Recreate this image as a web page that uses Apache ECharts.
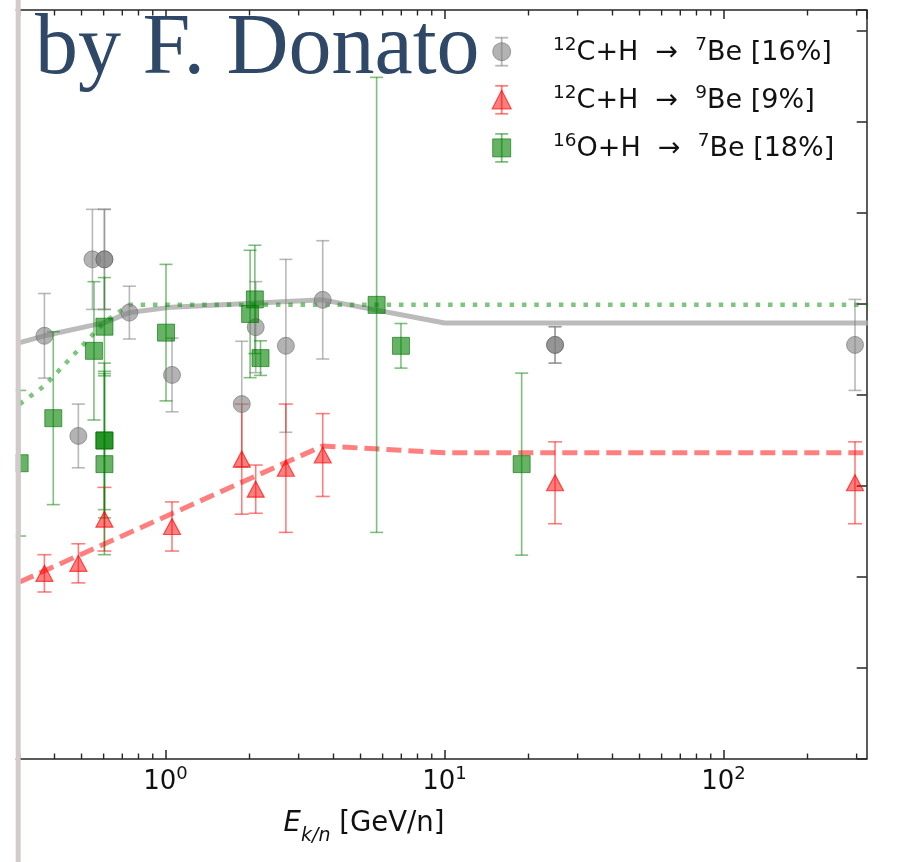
<!DOCTYPE html>
<html>
<head>
<meta charset="utf-8">
<script src="https://cdn.jsdelivr.net/npm/echarts@6/dist/echarts.min.js"></script>
<style>
  html, body { margin: 0; padding: 0; background: #ffffff; }
  #chart { width: 900px; height: 862px; }
</style>
</head>
<body>
<div id="chart"></div>
<script>
// Axis ranges: kinetic energy per nucleon (log) and cross section (mb)
const X_MIN = 0.2551;
const X_MAX = 326;
const Y_MIN = 0;
const Y_MAX = 16.46;
const Y_STEP = 2;
const xMinorTicks = [0.3, 0.4, 0.5, 0.6, 0.7, 0.8, 0.9,
                     2, 3, 4, 5, 6, 7, 8, 9,
                     20, 30, 40, 50, 60, 70, 80, 90,
                     200, 300];

// 12C+H -> 7Be measurements
const c7Energy = [0.368, 0.547, 0.604, 0.604, 0.487, 0.742, 1.055, 1.876, 2.105, 2.70, 3.66, 24.9, 24.9, 296];
const c7Value  = [9.30, 10.98, 10.98, 10.98, 7.10, 9.81, 8.44, 7.80, 9.49, 9.08, 10.09, 9.10, 9.10, 9.10];
const c7Error  = [0.93, 1.10, 1.10, 1.10, 0.70, 0.58, 0.81, 1.38, 1.00, 1.90, 1.30, 0.40, 0.40, 1.00];

// 12C+H -> 9Be measurements
const c9Energy = [0.368, 0.487, 0.604, 1.055, 1.876, 2.105, 2.70, 3.66, 24.9, 296];
const c9Value  = [4.08, 4.30, 5.27, 5.11, 6.59, 5.93, 6.39, 6.68, 6.07, 6.07];
const c9Error  = [0.41, 0.43, 0.70, 0.54, 1.21, 0.53, 1.41, 0.91, 0.90, 0.90];

// 16O+H -> 7Be measurements
const o7Energy = [0.300, 0.396, 0.554, 0.604, 0.604, 0.604, 0.604, 1.004, 2.01, 2.09, 2.19, 5.71, 6.98, 18.9];
const o7Value  = [6.50, 7.49, 8.97, 9.50, 7.00, 7.00, 6.48, 9.37, 9.78, 10.10, 8.81, 9.98, 9.08, 6.48];
const o7Error  = [1.60, 1.90, 1.52, 1.08, 1.52, 1.70, 1.99, 1.50, 1.40, 1.19, 0.38, 5.00, 0.49, 2.00];

// Parametrisations
const c7ModelEnergy = [0.30, 0.368, 0.604, 0.742, 1.055, 3.66, 10, 330];
const c7ModelValue  = [9.15, 9.30, 9.59, 9.81, 9.93, 10.09, 9.58, 9.58];
const c9ModelEnergy = [0.30, 3.66, 10, 330];
const c9ModelValue  = [3.89, 6.88, 6.73, 6.73];
const o7ModelEnergy = [0.30, 0.368, 0.487, 0.604, 0.742, 330];
const o7ModelValue  = [7.80, 8.20, 8.99, 9.60, 9.98, 9.98];

// Legend entries
const legendLabels = [
  '{s|12}C+H  →  {s|7}Be [16%]',
  '{s|12}C+H  →  {s|9}Be [9%]',
  '{s|16}O+H  →  {s|7}Be [18%]'
];

const SANS = 'DejaVu Sans';
const SPINE = '#262626';

const GRAY_FILL = 'rgba(128,128,128,0.6)';
const GRAY_EDGE = 'rgba(100,100,100,0.55)';
const GRAY_BAR = 'rgba(128,128,128,0.55)';
const RED_FILL = 'rgba(255,0,0,0.5)';
const RED_EDGE = 'rgba(255,0,0,0.65)';
const RED_BAR = 'rgba(255,0,0,0.5)';
const GREEN_FILL = 'rgba(0,128,0,0.6)';
const GREEN_EDGE = 'rgba(0,110,0,0.6)';
const GREEN_BAR = 'rgba(0,128,0,0.5)';

const zip3 = (a, b, c) => a.map((v, i) => [v, b[i], c[i]]);
const zip2 = (a, b) => a.map((v, i) => [v, b[i]]);

function errorBars(color, capHalf) {
  return function (params, api) {
    const x = api.value(0), v = api.value(1), e = api.value(2);
    const top = api.coord([x, v + e]);
    const bot = api.coord([x, v - e]);
    const style = { stroke: color, lineWidth: 1.6, fill: null };
    return {
      type: 'group',
      children: [
        { type: 'line', shape: { x1: top[0], y1: top[1], x2: bot[0], y2: bot[1] }, style: style },
        { type: 'line', shape: { x1: top[0] - capHalf, y1: top[1], x2: top[0] + capHalf, y2: top[1] }, style: style },
        { type: 'line', shape: { x1: bot[0] - capHalf, y1: bot[1], x2: bot[0] + capHalf, y2: bot[1] }, style: style }
      ]
    };
  };
}

const labelRich = {
  b: { fontFamily: SANS, fontSize: 26, color: '#111', lineHeight: 30, verticalAlign: 'bottom' },
  s: { fontFamily: SANS, fontSize: 18, color: '#111', lineHeight: 30, verticalAlign: 'top' }
};

function logAxis(position, showLabels) {
  return {
    type: 'log',
    logBase: 10,
    min: X_MIN,
    max: X_MAX,
    position: position,
    splitLine: { show: false },
    axisLine: { show: true, lineStyle: { color: SPINE, width: 1.5 } },
    axisTick: { show: true, inside: true, length: 9, lineStyle: { color: SPINE, width: 1.5 } },
    axisLabel: showLabels ? {
      show: true,
      margin: 6,
      showMinLabel: false,
      showMaxLabel: false,
      formatter: function (v) {
        const n = Math.round(Math.log10(v));
        return '{b|10}{s|' + n + '}';
      },
      rich: labelRich
    } : { show: false }
  };
}

// Legend block (markers with error bars and labels)
const legendX = 501.7;
const legendRows = [51.7, 99.8, 147.9];
const legendGraphics = [];
const legendBars = [GRAY_BAR, RED_BAR, GREEN_BAR];
legendRows.forEach((cy, i) => {
  const bar = legendBars[i];
  legendGraphics.push(
    { type: 'line', shape: { x1: legendX, y1: cy - 14, x2: legendX, y2: cy + 14 }, style: { stroke: bar, lineWidth: 1.8 } },
    { type: 'line', shape: { x1: legendX - 6.5, y1: cy - 14, x2: legendX + 6.5, y2: cy - 14 }, style: { stroke: bar, lineWidth: 1.8 } },
    { type: 'line', shape: { x1: legendX - 6.5, y1: cy + 14, x2: legendX + 6.5, y2: cy + 14 }, style: { stroke: bar, lineWidth: 1.8 } }
  );
  if (i === 0) {
    legendGraphics.push({ type: 'circle', shape: { cx: legendX, cy: cy, r: 9 }, style: { fill: GRAY_FILL, stroke: GRAY_EDGE, lineWidth: 1 } });
  } else if (i === 1) {
    legendGraphics.push({ type: 'polygon', shape: { points: [[legendX, cy - 9.5], [legendX - 9.5, cy + 9], [legendX + 9.5, cy + 9]] }, style: { fill: RED_FILL, stroke: RED_EDGE, lineWidth: 1.2 } });
  } else {
    legendGraphics.push({ type: 'rect', shape: { x: legendX - 9, y: cy - 9, width: 18, height: 18 }, style: { fill: GREEN_FILL, stroke: GREEN_EDGE, lineWidth: 1 } });
  }
  legendGraphics.push({
    type: 'text',
    style: {
      x: 553, y: cy + 1, text: legendLabels[i],
      align: 'left', verticalAlign: 'middle', textAlign: 'left', textVerticalAlign: 'middle',
      rich: {
        s: { fontFamily: SANS, fontSize: 18.5, fill: '#111', lineHeight: 34, verticalAlign: 'top' }
      },
      fontFamily: SANS, fontSize: 27, fill: '#111', lineHeight: 34
    }
  });
});

const chart = echarts.init(document.getElementById('chart'), null, { renderer: 'canvas' });

const staticGraphics = [
  // page margin and frame strip on the left
  { type: 'rect', z: 200, shape: { x: 0, y: 0, width: 15.7, height: 862 }, style: { fill: '#ffffff' } },
  { type: 'rect', z: 201, shape: { x: 15.7, y: 0, width: 5, height: 862 }, style: { fill: '#d3cbcb' } },
  {
    type: 'text', z: 202,
    style: {
      x: 35, y: 50, text: 'by F. Donato',
      fontFamily: 'Liberation Serif', fontSize: 86, fill: '#2f4867',
      align: 'left', verticalAlign: 'middle', textAlign: 'left', textVerticalAlign: 'middle'
    }
  },
  {
    type: 'text', z: 202,
    style: {
      x: 364, y: 828, text: '{i|E}{sub|k/n}{n| [GeV/n]}',
      align: 'center', verticalAlign: 'middle', textAlign: 'center', textVerticalAlign: 'middle',
      rich: {
        i: { fontFamily: SANS, fontStyle: 'italic', fontSize: 27.5, fill: '#111', lineHeight: 36, verticalAlign: 'top' },
        sub: { fontFamily: SANS, fontStyle: 'italic', fontSize: 19, fill: '#111', lineHeight: 36, verticalAlign: 'bottom' },
        n: { fontFamily: SANS, fontSize: 27.5, fill: '#111', lineHeight: 36, verticalAlign: 'top' }
      }
    }
  },
  { type: 'group', z: 150, children: legendGraphics }
];

chart.setOption({
  animation: false,
  backgroundColor: '#ffffff',
  grid: { left: 0, right: 33.3, top: 10, bottom: 103, containLabel: false, outerBoundsMode: 'none' },
  xAxis: [logAxis('bottom', true), logAxis('top', false)],
  yAxis: [{
    type: 'value',
    position: 'right',
    min: Y_MIN,
    max: Y_MAX,
    interval: Y_STEP,
    splitLine: { show: false },
    axisLabel: { show: false },
    axisLine: { show: true, lineStyle: { color: SPINE, width: 1.5 } },
    axisTick: { show: true, inside: true, length: 10, lineStyle: { color: SPINE, width: 1.5 } }
  }],
  series: [
    {
      type: 'line', name: 'c7model', data: zip2(c7ModelEnergy, c7ModelValue),
      showSymbol: false, lineStyle: { color: 'rgba(170,170,170,0.8)', width: 5 }, z: 2
    },
    {
      type: 'line', name: 'c9model', data: zip2(c9ModelEnergy, c9ModelValue),
      showSymbol: false, lineStyle: { color: 'rgba(255,0,0,0.5)', width: 5, type: [15, 7] }, z: 2
    },
    {
      type: 'line', name: 'o7model', data: zip2(o7ModelEnergy, o7ModelValue),
      showSymbol: false, lineStyle: { color: 'rgba(0,140,0,0.5)', width: 4.5, type: [4.5, 7.8] }, z: 2
    },
    {
      type: 'custom', name: 'c7err', renderItem: errorBars(GRAY_BAR, 6.5),
      data: zip3(c7Energy, c7Value, c7Error), encode: { x: 0, y: 1 }, z: 3
    },
    {
      type: 'scatter', name: '12C+H → 7Be', data: zip2(c7Energy, c7Value),
      symbol: 'circle', symbolSize: 17,
      itemStyle: { color: GRAY_FILL, borderColor: GRAY_EDGE, borderWidth: 1, opacity: 1 }, z: 4
    },
    {
      type: 'custom', name: 'c9err', renderItem: errorBars(RED_BAR, 7),
      data: zip3(c9Energy, c9Value, c9Error), encode: { x: 0, y: 1 }, z: 3
    },
    {
      type: 'scatter', name: '12C+H → 9Be', data: zip2(c9Energy, c9Value),
      symbol: 'triangle', symbolSize: [17, 16],
      itemStyle: { color: RED_FILL, borderColor: RED_EDGE, borderWidth: 1.2, opacity: 1 }, z: 4
    },
    {
      type: 'custom', name: 'o7err', renderItem: errorBars(GREEN_BAR, 6.5),
      data: zip3(o7Energy, o7Value, o7Error), encode: { x: 0, y: 1 }, z: 3
    },
    {
      type: 'scatter', name: '16O+H → 7Be', data: zip2(o7Energy, o7Value),
      symbol: 'rect', symbolSize: 17,
      itemStyle: { color: GREEN_FILL, borderColor: GREEN_EDGE, borderWidth: 1, opacity: 1 }, z: 4
    }
  ],
  graphic: staticGraphics
});

// Minor log ticks on the bottom and top spines, placed through the axis scale
const yBottom = chart.convertToPixel({ yAxisIndex: 0 }, Y_MIN);
const yTop = chart.convertToPixel({ yAxisIndex: 0 }, Y_MAX);
const minorTickGraphics = [];
xMinorTicks.forEach(e => {
  const px = chart.convertToPixel({ xAxisIndex: 0 }, e);
  const st = { stroke: SPINE, lineWidth: 1.4 };
  minorTickGraphics.push(
    { type: 'line', z: 5, shape: { x1: px, y1: yBottom, x2: px, y2: yBottom - 5.5 }, style: st },
    { type: 'line', z: 5, shape: { x1: px, y1: yTop, x2: px, y2: yTop + 5.5 }, style: st }
  );
});
chart.setOption({
  graphic: staticGraphics.concat([{ type: 'group', z: 5, children: minorTickGraphics }])
}, { replaceMerge: ['graphic'] });
</script>
</body>
</html>
